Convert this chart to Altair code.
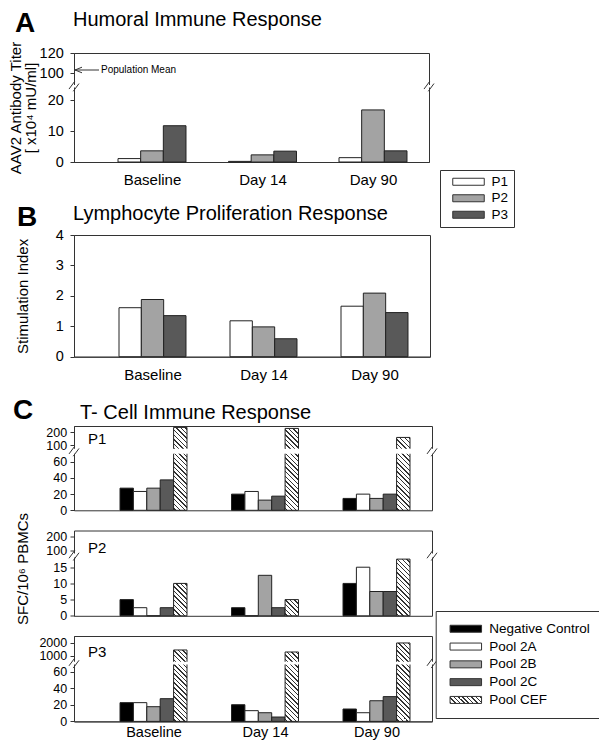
import json
import numpy as np
import pandas as pd
import altair as alt

# ---------------- data ----------------
days = ["Baseline", "Day 14", "Day 90"]
patients = ["P1", "P2", "P3"]

titer_P1 = [1.1, 0.2, 1.4]
titer_P2 = [3.6, 2.3, 16.8]
titer_P3 = [11.7, 3.5, 3.6]

stim_P1 = [1.61, 1.18, 1.66]
stim_P2 = [1.88, 0.98, 2.09]
stim_P3 = [1.35, 0.59, 1.45]

pools = ["Negative Control", "Pool 2A", "Pool 2B", "Pool 2C", "Pool CEF"]

sfc_P1_baseline = [27.4, 23.3, 27.4, 37.6, 239]
sfc_P1_day14 = [20.0, 23.3, 12.6, 17.5, 231]
sfc_P1_day90 = [14.7, 20.0, 14.7, 20.0, 160]
sfc_P2_baseline = [5.0, 2.5, 0.0, 2.5, 10.0]
sfc_P2_day14 = [2.5, 0.0, 12.5, 2.5, 5.0]
sfc_P2_day90 = [10.0, 15.0, 7.5, 7.5, 17.5]
sfc_P3_baseline = [22.7, 22.7, 17.8, 27.5, 1440]
sfc_P3_day14 = [20.2, 13.0, 10.5, 5.3, 1285]
sfc_P3_day90 = [15.0, 10.5, 25.0, 30.0, 1980]

titer_ticks = [0, 10, 20, 100, 120]
stim_ticks = [0, 1, 2, 3, 4]
sfc_P1_ticks = [0, 20, 40, 60, 100, 200]
sfc_P2_ticks = [0, 5, 10, 15, 100, 200]
sfc_P3_ticks = [0, 20, 40, 60, 1000, 2000]

# ---------------- styles / layout ----------------
FONT = "Liberation Sans"
INK = "#333333"
EDGE = "#222222"
patient_colors = ["#ffffff", "#a3a3a3", "#595959"]
pool_colors = ["#000000", "#ffffff", "#a3a3a3", "#595959"]

W_A, H_A = 355, 109
W_B, H_B = 356, 121.7
W_C = 358
H_P1, H_P2, H_P3 = 84.3, 85.3, 85.4
SPACING = 19.5
GAP_AB = 72.3 - 2 * SPACING
GAP_BC = 69 - 2 * SPACING

# group geometry: (centre of first group from plot left, step between groups, group width)
GEO_A = (78.0, 110.5, 68.0)
GEO_B = (78.5, 111.0, 67.0)
GEO_C = (79.5, 111.5, 67.0)
BAR_W_C = GEO_C[2] / 5

# broken (piecewise) y scales: domain values -> pixel range
Y_A = ([0, 24, 88, 120], [H_A, 34.6, 32, 0])
Y_B = ([0, 4], [H_B, 0])
Y_P1 = ([0, 70, 71.3, 250], [H_P1, 27.7, 22.7, 0])
Y_P2 = ([0, 18, 81, 242], [H_P2, 27, 23, 0])
Y_P3 = ([0, 69, 538, 2515], [H_P3, 28.4, 25.7, 0])

SYMBOL = "M-4.5,-1H4.5V1H-4.5Z"
BREAK = "M-1,0.55L0.15,-1M-0.15,1L1,-0.55"
DAY_EXPR = "[" + ",".join("'%s'" % d for d in days) + "][datum.value]"


def hatch(w, h, pitch=4.6, line=1.4, phase=2.3, ink=INK):
    total = w + h
    stops = [{"offset": 0.0, "color": "#ffffff"}]
    c = phase
    while c - line / 2 < total:
        a = round(max(c - line / 2, 0.0) / total, 5)
        b = round(min(c + line / 2, total) / total, 5)
        stops += [{"offset": a, "color": "#ffffff"}, {"offset": a, "color": ink},
                  {"offset": b, "color": ink}, {"offset": b, "color": "#ffffff"}]
        c += pitch
    stops.append({"offset": 1.0, "color": "#ffffff"})
    k = total / (w * w + h * h)
    return {"gradient": "linear", "x1": 0, "y1": 1,
            "x2": round(k * w, 6), "y2": round(1 - k * h, 6), "stops": stops}


def ymap(v, ys):
    return float(np.interp(v, ys[0], ys[1]))


one = pd.DataFrame({"k": [0]})


def text_layer(s, x, y, size, weight="normal", baseline="top", align="left"):
    return alt.Chart(pd.DataFrame({"t": [s]})).mark_text(
        font=FONT, fontSize=size, fontWeight=weight, baseline=baseline,
        align=align, color="black"
    ).encode(x=alt.value(x), y=alt.value(y), text="t:N")


def x_enc(geo, W, labels, pad=10, size=15):
    c0, step, _ = geo
    axis = None
    if labels:
        axis = alt.Axis(title=None, values=[0, 1, 2], labelExpr=DAY_EXPR,
                        labelFontSize=size, labelAngle=0, ticks=False, tickSize=0,
                        labelPadding=pad, domainColor=INK, labelColor="black",
                        zindex=0, labelFont=FONT, grid=False, labelFlush=False,
                        labelOverlap=False)
    return alt.X("x0:Q", scale=alt.Scale(domain=[-c0 / step, (W - c0) / step],
                                         nice=False, zero=False),
                 axis=axis, title=None)


def place(chart, geo, n):
    bwu = geo[2] / n / geo[1]
    return chart.transform_calculate(
        x0="datum.di + (datum.si - %f) * %f" % (n / 2, bwu),
        x1="datum.di + (datum.si - %f) * %f" % (n / 2 - 1, bwu),
        y0="0",
    )


def y_axis(values, size, pad, title=None, tx=None, ty=None, lh=None):
    kw = dict(values=values, labelFontSize=size, labelPadding=pad, tickSize=4,
              grid=False, labelOverlap=False, labelFlush=False, zindex=0, format="d",
              domainColor=INK, tickColor=INK, labelColor="black", labelFont=FONT)
    if title is None:
        kw["title"] = None
    else:
        kw.update(title=title, titleFontSize=15, titleFontWeight="normal",
                  titleX=tx, titleY=ty, titleAngle=270, titleBaseline="middle",
                  titleAlign="center", titleColor="black", titleFont=FONT)
        if lh:
            kw["titleLineHeight"] = lh
    return alt.Axis(**kw)


def y_enc(ys, axis):
    return alt.Y("value:Q", scale=alt.Scale(domain=ys[0], range=ys[1], nice=False,
                                            zero=False), axis=axis)


def gap_layers(ys, width):
    top, bottom = ymap(ys[0][2], ys), ymap(ys[0][1], ys)
    mid = (top + bottom) / 2
    gap = alt.Chart(one).mark_rect(fill="white").encode(
        x=alt.value(-1), x2=alt.value(width + 1), y=alt.value(top), y2=alt.value(bottom))
    marks = [
        alt.Chart(one).mark_point(shape=BREAK, filled=False, stroke=INK, strokeWidth=1,
                                  size=100, opacity=1).encode(x=alt.value(xx), y=alt.value(mid))
        for xx in (0, width)
    ]
    return [gap] + marks


def make_legend(x, y, pad, row_pad, sym_off, lab_off):
    return alt.Legend(orient="none", legendX=x, legendY=y, title=None,
                      symbolType=SYMBOL, symbolSize=49, symbolStrokeColor=INK,
                      symbolStrokeWidth=1, symbolOffset=sym_off, labelOffset=lab_off,
                      labelFontSize=13.5, labelFont=FONT, labelColor="black",
                      padding=pad, rowPadding=row_pad, strokeColor=INK,
                      fillColor="white", labelLimit=400)


def spacer(h):
    return alt.Chart(one).mark_point(opacity=0).encode(
        x=alt.value(0), y=alt.value(0)).properties(
        width=W_C, height=h, view=alt.ViewBackground(stroke=None))


def table(series, arrays):
    return pd.DataFrame([{"day": d, "di": i, "series": s, "si": j, "value": arr[i]}
                         for j, (s, arr) in enumerate(zip(series, arrays))
                         for i, d in enumerate(days)])


# ---------------- Panel A ----------------
dfA = table(patients, [titer_P1, titer_P2, titer_P3])

barsA = place(alt.Chart(dfA), GEO_A, 3).mark_rect(stroke=EDGE, strokeWidth=1).encode(
    x=x_enc(GEO_A, W_A, True), x2="x1:Q",
    y=y_enc(Y_A, y_axis(titer_ticks, 14.5, 6.7,
                        ["AAV2 Antibody Titer", "[ x10\u2074 mU/ml]"], -58.5, H_A / 2, 15)),
    y2="y0:Q",
    fill=alt.Fill("series:N", scale=alt.Scale(domain=patients, range=patient_colors),
                  legend=make_legend(366, 117, 5, 1.5, 16.75, 16.25)),
)

y_mean = ymap(103, Y_A)
arrow_line = alt.Chart(one).mark_rule(stroke=INK, strokeWidth=1).encode(
    x=alt.value(1), x2=alt.value(25), y=alt.value(y_mean))
arrow_head = alt.Chart(one).mark_point(shape="M1,-0.8L-1,0L1,0.8", filled=False,
                                       stroke=INK, strokeWidth=1, size=49, opacity=1).encode(
    x=alt.value(4.5), y=alt.value(y_mean))
arrow_text = text_layer("Population Mean", 27, y_mean, 10, baseline="middle")

panelA = alt.layer(
    barsA, *gap_layers(Y_A, W_A), arrow_line, arrow_head, arrow_text,
    text_layer("A", -59, -43.5, 28, "bold"),
    text_layer("Humoral Immune Response", -1, -43.5, 20),
).properties(width=W_A, height=H_A)

# ---------------- Panel B ----------------
dfB = table(patients, [stim_P1, stim_P2, stim_P3])

barsB = place(alt.Chart(dfB), GEO_B, 3).mark_rect(stroke=EDGE, strokeWidth=1).encode(
    x=x_enc(GEO_B, W_B, True, 11), x2="x1:Q",
    y=y_enc(Y_B, y_axis(stim_ticks, 14.5, 6.7, "Stimulation Index", -52, H_B / 2)),
    y2="y0:Q",
    fill=alt.Fill("series:N", scale=alt.Scale(domain=patients, range=patient_colors),
                  legend=None),
)

panelB = alt.layer(
    barsB,
    text_layer("B", -57, -31.3, 28, "bold"),
    text_layer("Lymphocyte Proliferation Response", -1, -30.8, 20),
).properties(width=W_B, height=H_B)

# ---------------- Panel C ----------------
legend_fill = pool_colors + [{"expr": json.dumps(hatch(31.5, 7, pitch=4.4, phase=1.5))}]


def t_cell_panel(rows, ys, H, ticks, label, extras, legend=None, x_labels=False,
                 y_title=None):
    per_pool = [[r[j] for r in rows] for j in range(len(pools))]
    df = table(pools, per_pool)
    cef = [{"day": d, "di": i, "series": "Pool CEF", "si": 4, "value": vals[4],
            "grad": hatch(BAR_W_C, ymap(0, ys) - ymap(vals[4], ys))}
           for i, (d, vals) in enumerate(zip(days, rows))]
    if y_title:
        axis = y_axis(ticks, 12.5, 3.3, y_title, -52, 38)
    else:
        axis = y_axis(ticks, 12.5, 3.3)
    xe = x_enc(GEO_C, W_C, x_labels, 4, 14.5)
    bars = place(alt.Chart(df).transform_filter(alt.datum.series != "Pool CEF"),
                 GEO_C, 5).mark_rect(stroke=EDGE, strokeWidth=1).encode(
        x=xe, x2="x1:Q", y=y_enc(ys, axis), y2="y0:Q",
        fill=alt.Fill("series:N", scale=alt.Scale(domain=pools, range=legend_fill),
                      legend=legend),
    )
    cef_bars = place(alt.Chart(alt.Data(values=cef)), GEO_C, 5).mark_rect(
        stroke=EDGE, strokeWidth=1).encode(
        x=xe, x2="x1:Q", y=y_enc(ys, axis), y2="y0:Q",
        fill=alt.Fill("grad:N", scale=None, legend=None),
    )
    return alt.layer(
        bars, cef_bars, *gap_layers(ys, W_C), label, *extras
    ).resolve_scale(fill="independent").properties(width=W_C, height=H)


panelP1 = t_cell_panel(
    [sfc_P1_baseline, sfc_P1_day14, sfc_P1_day90], Y_P1, H_P1, sfc_P1_ticks,
    text_layer("P1", 14, 6, 15),
    [text_layer("C", -61, -29, 28, "bold"),
     text_layer("T- Cell Immune Response", 6, -23.5, 20)],
)
panelP2 = t_cell_panel(
    [sfc_P2_baseline, sfc_P2_day14, sfc_P2_day90], Y_P2, H_P2, sfc_P2_ticks,
    text_layer("P2", 14, 10, 15), [], y_title="SFC/10\u2076 PBMCs",
)
panelP3 = t_cell_panel(
    [sfc_P3_baseline, sfc_P3_day14, sfc_P3_day90], Y_P3, H_P3, sfc_P3_ticks,
    text_layer("P3", 14, 8.5, 15), [],
    legend=make_legend(361.7, -25, 11, 2.8, 12.35, 16.65), x_labels=True,
)

chart = alt.vconcat(
    panelA, spacer(GAP_AB), panelB, spacer(GAP_BC), panelP1, panelP2, panelP3,
    spacing=SPACING, bounds="flush",
).properties(
    autosize=alt.AutoSizeParams(type="none"),
    padding={"left": 66, "top": 45, "right": 525, "bottom": 687},
    background="white",
).configure(font=FONT).configure_view(
    stroke=INK, strokeWidth=1).configure_axis(labelOverlap=False)

chart.save("out.html", embed_options={"renderer": "svg", "actions": False})
